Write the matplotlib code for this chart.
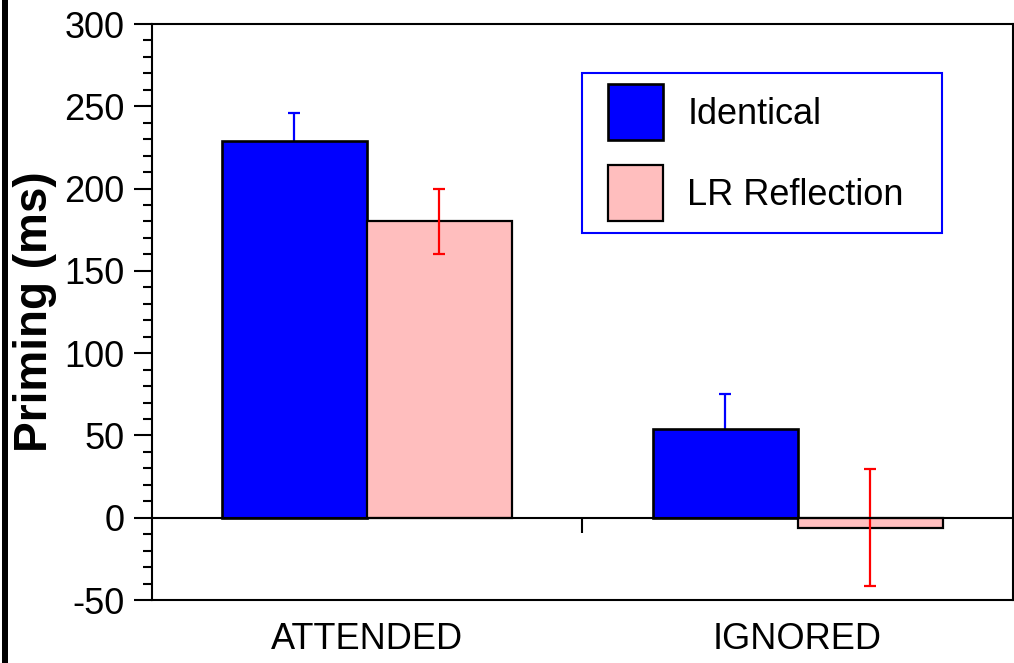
import matplotlib
matplotlib.use('Agg')
import matplotlib.pyplot as plt
import numpy as np
from matplotlib.patches import Rectangle
from matplotlib.legend_handler import HandlerPatch
from matplotlib.ticker import MultipleLocator

# ---- data ----
conditions = ['ATTENDED', 'IGNORED']
series = ['Identical', 'LR Reflection']
identical = [229, 54]
identical_err = [17, 21]
reflection = [180, -6]
reflection_err = [20, 35.5]
y_ticks = [-50, 0, 50, 100, 150, 200, 250, 300]

BLUE = '#0000FF'
PINK = '#FFBEBE'
RED = '#FF0000'

plt.rcParams['font.family'] = ['Liberation Sans', 'DejaVu Sans']
plt.rcParams['axes.unicode_minus'] = False

W, H = 1014, 663
fig = plt.figure(figsize=(W / 100, H / 100), dpi=100)
ax = fig.add_axes([151.5 / W, 1 - 600 / H, (1013 - 151.5) / W, (600 - 24) / H])

x = np.arange(len(conditions)) + 0.5
w = 0.3366

b1 = ax.bar(x - w / 2, identical, w, color=BLUE, edgecolor='black', linewidth=1.9, zorder=3)
ax.errorbar(x - w / 2, identical, yerr=identical_err, fmt='none', ecolor=BLUE,
            elinewidth=1.6, capsize=4.5, capthick=1.6, zorder=2)
b2 = ax.bar(x + w / 2, reflection, w, color=PINK, edgecolor='black', linewidth=1.6, zorder=3)
ax.errorbar(x + w / 2, reflection, yerr=reflection_err, fmt='none', ecolor=RED,
            elinewidth=1.6, capsize=4.5, capthick=1.6, zorder=4)

ymin, ymax = y_ticks[0], y_ticks[-1]
ax.set_ylim(ymin, ymax)
ax.set_xlim(0, len(conditions))
ax.set_yticks(y_ticks)
ax.yaxis.set_minor_locator(MultipleLocator(10))
ax.tick_params(axis='y', which='major', direction='out', length=13, width=1.5,
               labelsize=26, pad=6.5)
ax.tick_params(axis='y', which='minor', direction='out', length=6.5, width=1.5)
ax.set_xticks(x)
ax.set_xticklabels(conditions)
ax.tick_params(axis='x', which='both', length=0, labelsize=26, pad=16)
for s in ax.spines.values():
    s.set_linewidth(1.5)

# zero line with a category divider tick
zero_loc = (0 - ymin) / (ymax - ymin)
sec = ax.secondary_xaxis(zero_loc)
sec.set_xticks([1])
sec.xaxis.set_ticks_position('bottom')
sec.tick_params(axis='x', direction='out', length=11, width=1.5,
                labelbottom=False, labeltop=False)
for name, s in sec.spines.items():
    s.set_linewidth(1.5)
sec.set_zorder(5)

ax.set_ylabel('Priming (ms)', fontsize=33, fontweight='bold')
ax.yaxis.set_label_coords(-0.1097, 0.5)


def offset_patch(legend, orig_handle, xdescent, ydescent, width, height, fontsize):
    off = width * 14.5 / 69.5
    return Rectangle((-xdescent + off, -ydescent), width - off, height)


leg = ax.legend([b1.patches[0], b2.patches[0]], series,
                handler_map={Rectangle: HandlerPatch(patch_func=offset_patch)},
                loc='upper left', bbox_to_anchor=(0.4997, 0.5, 0.4179, 0.4155),
                mode='expand', borderaxespad=0, borderpad=0.32,
                handlelength=1.925, handleheight=2.01, handletextpad=0.676,
                labelspacing=0.69, fontsize=26, fancybox=False, framealpha=1,
                edgecolor=BLUE)
leg.get_frame().set_linewidth(1.5)

fig.add_artist(Rectangle((2 / W, 0), 6 / W, 1, transform=fig.transFigure,
                         facecolor='black', edgecolor='none'))

fig.savefig('out.png', dpi=100, facecolor='white')
